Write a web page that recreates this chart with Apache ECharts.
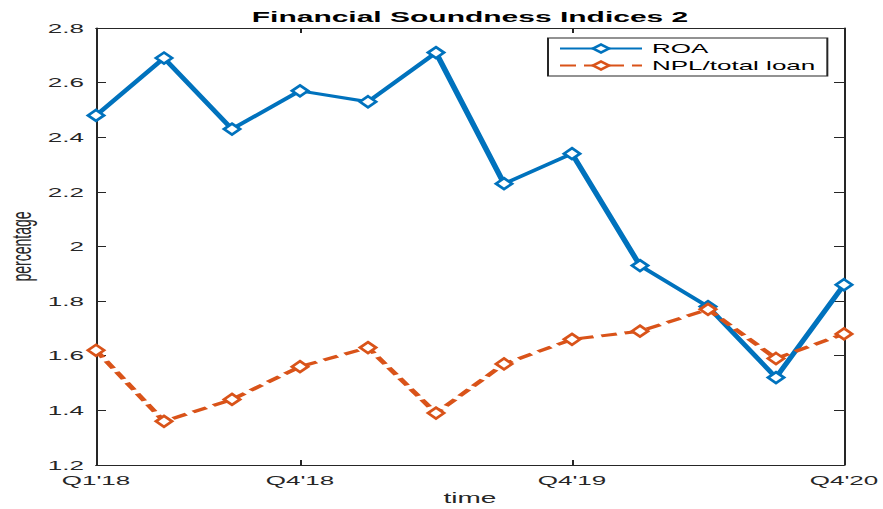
<!DOCTYPE html>
<html>
<head>
<meta charset="utf-8">
<script src="https://cdn.jsdelivr.net/npm/echarts@6/dist/echarts.min.js"></script>
<style>
  html, body { margin: 0; padding: 0; background: #fff; overflow: hidden; }
  /* the reference is stretched 2x sideways, so draw at half width and scale */
  #chart { width: 441.5px; height: 509px; transform: scaleX(2); transform-origin: 0 0; }
</style>
</head>
<body>
<div id="chart"></div>
<script>
const quarters = ["Q1'18", "Q2'18", "Q3'18", "Q4'18", "Q1'19", "Q2'19", "Q3'19", "Q4'19", "Q1'20", "Q2'20", "Q3'20", "Q4'20"];
const roa = [2.48, 2.69, 2.43, 2.57, 2.53, 2.71, 2.23, 2.34, 1.93, 1.78, 1.52, 1.86];
const npl = [1.62, 1.36, 1.44, 1.56, 1.63, 1.39, 1.57, 1.66, 1.69, 1.77, 1.59, 1.68];
const shownTicks = [0, 3, 7, 11];

const font = "'Liberation Sans', Arial, Helvetica, sans-serif";
const axisColor = "#262626";
const showTick = (i) => shownTicks.indexOf(i) >= 0;

const myChart = echarts.init(document.getElementById("chart"), null, {
  renderer: "svg", width: 441.5, height: 509
});

myChart.setOption({
  animation: false,
  textStyle: { fontFamily: font },
  title: {
    text: "Financial Soundness Indices 2",
    left: 235,
    top: 9,
    padding: 0,
    textAlign: "center",
    textStyle: { fontSize: 15, fontWeight: "bold", color: "#000", fontFamily: font }
  },
  grid: {
    left: 48,
    right: 19.5,
    top: 28,
    bottom: 44,
    outerBoundsMode: "none"
  },
  legend: {
    data: ["ROA", "NPL/total loan"],
    orient: "vertical",
    left: 274,
    top: 38,
    itemWidth: 41,
    itemHeight: 10,
    itemGap: 4,
    padding: [4, 6, 4, 5],
    borderColor: axisColor,
    borderWidth: 1,
    backgroundColor: "#fff",
    textStyle: { fontSize: 13, color: "#000", fontFamily: font }
  },
  xAxis: [
    {
      type: "category",
      data: quarters,
      boundaryGap: false,
      name: "time",
      nameLocation: "middle",
      nameGap: 26,
      nameMoveOverlap: false,
      nameTextStyle: { fontSize: 14, color: axisColor, fontFamily: font },
      axisLine: { onZero: false, lineStyle: { color: axisColor, width: 1 } },
      axisTick: { inside: true, length: 5, interval: showTick, lineStyle: { color: axisColor } },
      axisLabel: {
        interval: showTick, color: axisColor, fontSize: 13, margin: 9,
        showMinLabel: true, showMaxLabel: true, hideOverlap: false
      },
      splitLine: { show: false }
    },
    {
      type: "category",
      data: quarters,
      boundaryGap: false,
      position: "top",
      axisLine: { onZero: false, lineStyle: { color: axisColor, width: 1 } },
      axisTick: { inside: true, length: 5, interval: showTick, lineStyle: { color: axisColor } },
      axisLabel: { show: false },
      splitLine: { show: false }
    }
  ],
  yAxis: [
    {
      type: "value",
      min: 1.2,
      max: 2.8,
      interval: 0.2,
      name: "percentage",
      nameLocation: "middle",
      nameGap: 30,
      nameMoveOverlap: false,
      nameTextStyle: { fontSize: 14, color: axisColor, fontFamily: font },
      axisLine: { show: true, onZero: false, lineStyle: { color: axisColor, width: 1 } },
      axisTick: { show: true, inside: true, length: 5, lineStyle: { color: axisColor } },
      axisLabel: { color: axisColor, fontSize: 13, margin: 6 },
      splitLine: { show: false }
    },
    {
      type: "value",
      min: 1.2,
      max: 2.8,
      interval: 0.2,
      position: "right",
      axisLine: { show: true, onZero: false, lineStyle: { color: axisColor, width: 1 } },
      axisTick: { show: true, inside: true, length: 5, lineStyle: { color: axisColor } },
      axisLabel: { show: false },
      splitLine: { show: false }
    }
  ],
  series: [
    {
      name: "ROA",
      type: "line",
      data: roa,
      symbol: "diamond",
      symbolSize: [8, 11],
      showAllSymbol: true,
      lineStyle: { color: "#0072BD", width: 3 },
      itemStyle: { color: "#fff", borderColor: "#0072BD", borderWidth: 2 },
      emphasis: { disabled: true }
    },
    {
      name: "NPL/total loan",
      type: "line",
      data: npl,
      symbol: "diamond",
      symbolSize: [8, 11],
      showAllSymbol: true,
      lineStyle: { color: "#D95319", width: 3, type: [8, 4] },
      itemStyle: { color: "#fff", borderColor: "#D95319", borderWidth: 2 },
      emphasis: { disabled: true }
    }
  ]
});
</script>
</body>
</html>
